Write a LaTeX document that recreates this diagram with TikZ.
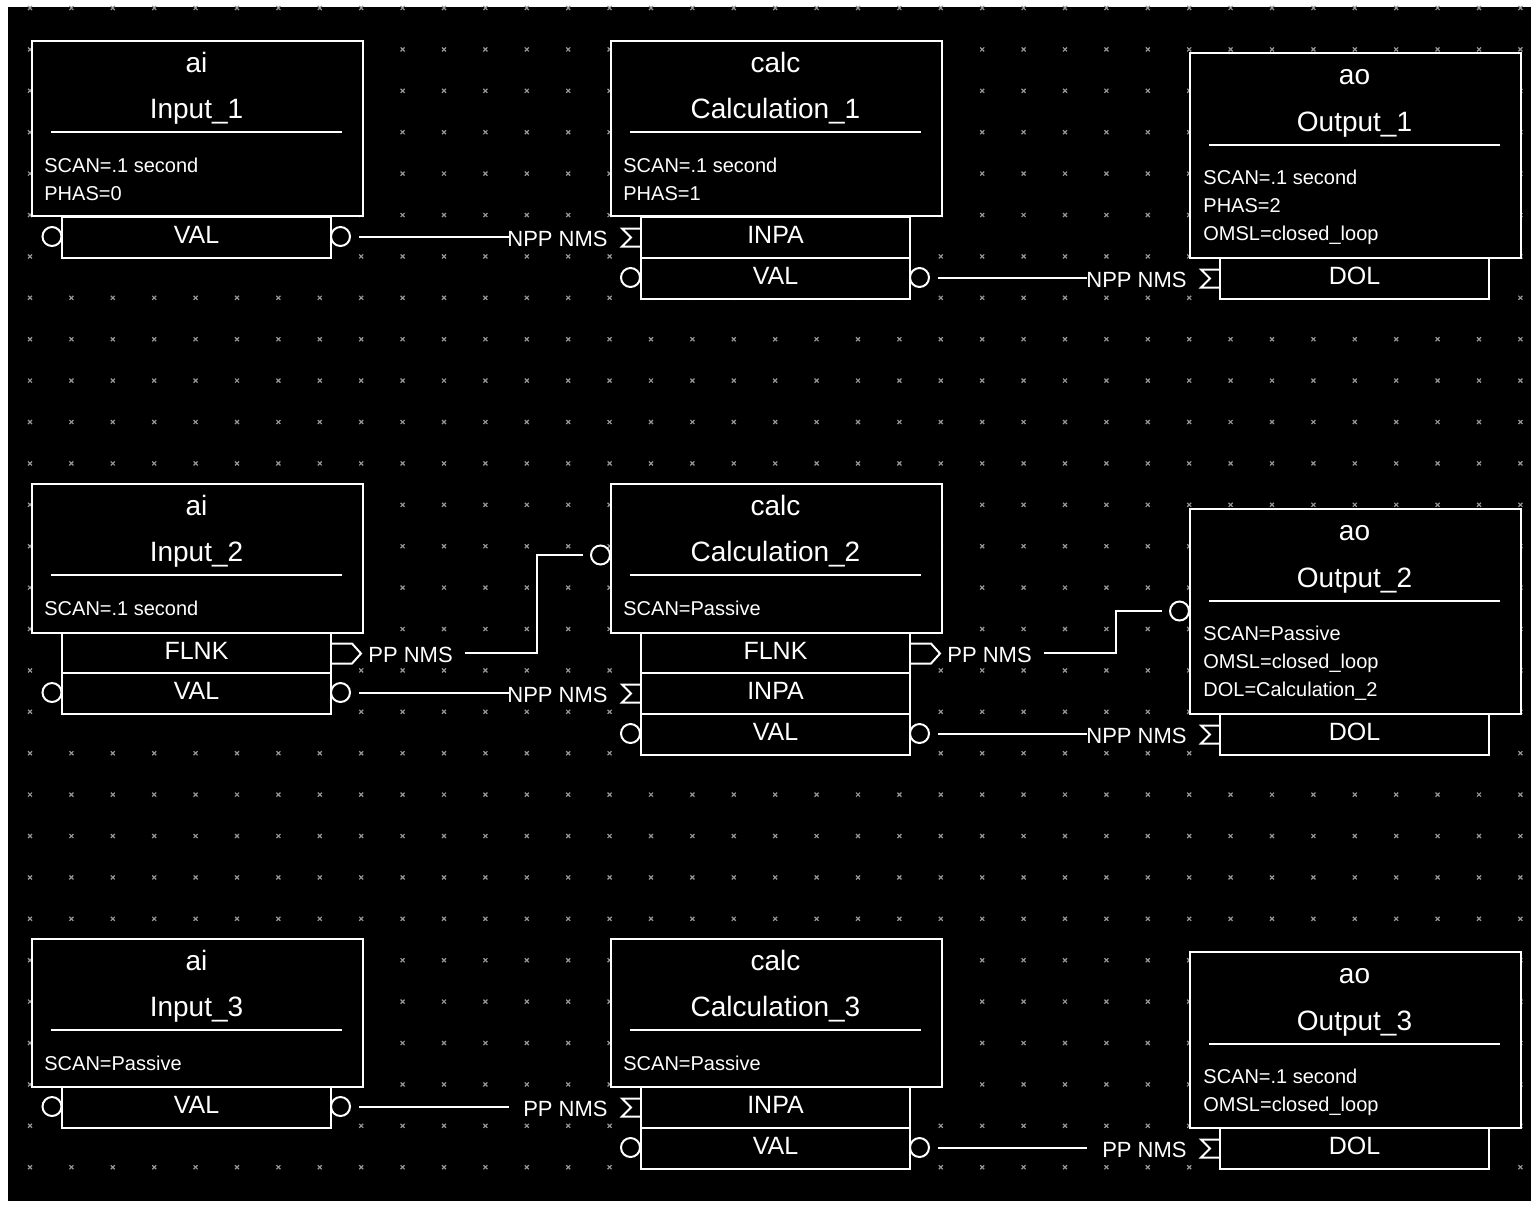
\documentclass[tikz,border=0pt]{standalone}
\usepackage{fontspec}
\setmainfont{Liberation Sans}
\definecolor{gridc}{RGB}{150,150,150}
\begin{document}
\begin{tikzpicture}[x=0.5pt,y=-0.5pt,
  wire/.style={draw=white,line width=1pt},
  recbox/.style={draw=white,fill=black,line width=1pt,rectangle,minimum width=165.5pt,anchor=north west,inner sep=0pt},
  fieldbox/.style={draw=white,fill=black,line width=1pt,rectangle,minimum width=134.5pt,minimum height=20.5pt,anchor=north west,inner sep=0pt},
  fieldtxt/.style={text=white,font=\fontsize{12.5}{14}\selectfont,inner sep=0pt,yshift=1.5pt},
  titletxt/.style={text=white,font=\fontsize{14}{16}\selectfont,inner sep=0pt,anchor=base},
  bodytxt/.style={text=white,font=\fontsize{10}{12}\selectfont,inner sep=0pt,anchor=base west},
  linktxt/.style={text=white,font=\fontsize{11}{13}\selectfont,inner sep=0pt},
  pinc/.style={circle,draw=white,line width=1pt,fill=black,minimum size=9.5pt,inner sep=0pt},
  gridx/.style={draw=gridc,line width=0.6pt},
  sigma/.pic={\draw[wire] (0,-9) -- (-18,-9) -- (-9,0) -- (-18,9) -- (0,9);},
  flag/.pic={\draw[wire] (0,-10) -- (20,-10) -- (29,0) -- (20,10) -- (0,10);}
]
\useasboundingbox (0,0) rectangle (1531,1207);
\fill[white] (0,0) rectangle (1531,1207);
\fill[black] (8,7) rectangle (1531,1201);
% grid
\foreach \i in {0,...,36}{\foreach \j in {0,...,28}{
  \draw[gridx] (30+41.4*\i-2,8+41.4*\j-2) -- ++(4,4) (30+41.4*\i-2,8+41.4*\j+2) -- ++(4,-4);
}}
% ---------- pin circles ----------
\node[pinc] (in1vi) at (52,236.5) {};
\node[pinc] (in1vo) at (340.5,236.5) {};
\node[pinc] (in2vi) at (52,692.5) {};
\node[pinc] (in2vo) at (340.5,692.5) {};
\node[pinc] (in3vi) at (52,1106.5) {};
\node[pinc] (in3vo) at (340.5,1106.5) {};
\node[pinc] (ca1vi) at (630.5,277.5) {};
\node[pinc] (ca1vo) at (919.5,277.5) {};
\node[pinc] (ca2vi) at (630.5,733.5) {};
\node[pinc] (ca2vo) at (919.5,733.5) {};
\node[pinc] (ca3vi) at (630.5,1147.5) {};
\node[pinc] (ca3vo) at (919.5,1147.5) {};
\node[pinc] (ca2sd) at (600.5,555) {};
\node[pinc] (ou2sd) at (1179.5,611) {};
% ---------- record boxes ----------
\node[recbox,minimum height=87.5pt] (in1) at (31,40) {};
\node[recbox,minimum height=74.5pt] (in2) at (31,483) {};
\node[recbox,minimum height=74pt] (in3) at (31,938) {};
\node[recbox,minimum height=87.5pt] (ca1) at (610,40) {};
\node[recbox,minimum height=74.5pt] (ca2) at (610,483) {};
\node[recbox,minimum height=74pt] (ca3) at (610,938) {};
\node[recbox,minimum height=102.5pt] (ou1) at (1189,52) {};
\node[recbox,minimum height=102.5pt] (ou2) at (1189,508) {};
\node[recbox,minimum height=88pt] (ou3) at (1189,951) {};
% ---------- fields ----------
\node[fieldbox] (in1val) at (61,216) {};
\node[fieldbox] (in2flnk) at (61,632) {};
\node[fieldbox] (in2val) at (61,672) {};
\node[fieldbox] (in3val) at (61,1086) {};
\node[fieldbox] (ca1inpa) at (640,216) {};
\node[fieldbox] (ca1val) at (640,257) {};
\node[fieldbox] (ca2flnk) at (640,632) {};
\node[fieldbox] (ca2inpa) at (640,672) {};
\node[fieldbox] (ca2val) at (640,713) {};
\node[fieldbox] (ca3inpa) at (640,1086) {};
\node[fieldbox] (ca3val) at (640,1127) {};
\node[fieldbox] (ou1dol) at (1219,257) {};
\node[fieldbox] (ou2dol) at (1219,713) {};
\node[fieldbox] (ou3dol) at (1219,1127) {};
\node[fieldtxt] (in1valt) at (in1val) {VAL};
\node[fieldtxt] (in2flnkt) at (in2flnk) {FLNK};
\node[fieldtxt] (in2valt) at (in2val) {VAL};
\node[fieldtxt] (in3valt) at (in3val) {VAL};
\node[fieldtxt] (ca1inpat) at (ca1inpa) {INPA};
\node[fieldtxt] (ca1valt) at (ca1val) {VAL};
\node[fieldtxt] (ca2flnkt) at (ca2flnk) {FLNK};
\node[fieldtxt] (ca2inpat) at (ca2inpa) {INPA};
\node[fieldtxt] (ca2valt) at (ca2val) {VAL};
\node[fieldtxt] (ca3inpat) at (ca3inpa) {INPA};
\node[fieldtxt] (ca3valt) at (ca3val) {VAL};
\node[fieldtxt] (ou1dolt) at (ou1dol) {DOL};
\node[fieldtxt] (ou2dolt) at (ou2dol) {DOL};
\node[fieldtxt] (ou3dolt) at (ou3dol) {DOL};
% ---------- box titles and bodies ----------
% Input_1
\node[titletxt] (in1a) at (196.5,72) {ai};
\node[titletxt] (in1b) at (196.5,118) {Input\_1};
\draw[wire] (51,132) -- (342,132);
\node[bodytxt] (in1c) at (44,172) {SCAN=.1 second};
\node[bodytxt] (in1d) at (44,200) {PHAS=0};
% Calculation_1
\node[titletxt] (ca1a) at (775.5,72) {calc};
\node[titletxt] (ca1b) at (775.5,118) {Calculation\_1};
\draw[wire] (630,132) -- (921,132);
\node[bodytxt] (ca1c) at (623,172) {SCAN=.1 second};
\node[bodytxt] (ca1d) at (623,200) {PHAS=1};
% Output_1
\node[titletxt] (ou1a) at (1354.5,84) {ao};
\node[titletxt] (ou1b) at (1354.5,131) {Output\_1};
\draw[wire] (1209,145) -- (1500,145);
\node[bodytxt] (ou1c) at (1203,184) {SCAN=.1 second};
\node[bodytxt] (ou1d) at (1203,212) {PHAS=2};
\node[bodytxt] (ou1e) at (1203,240) {OMSL=closed\_loop};
% Input_2
\node[titletxt] (in2a) at (196.5,515) {ai};
\node[titletxt] (in2b) at (196.5,561) {Input\_2};
\draw[wire] (51,575) -- (342,575);
\node[bodytxt] (in2c) at (44,615) {SCAN=.1 second};
% Calculation_2
\node[titletxt] (ca2a) at (775.5,515) {calc};
\node[titletxt] (ca2b) at (775.5,561) {Calculation\_2};
\draw[wire] (630,575) -- (921,575);
\node[bodytxt] (ca2c) at (623,615) {SCAN=Passive};
% Output_2
\node[titletxt] (ou2a) at (1354.5,540) {ao};
\node[titletxt] (ou2b) at (1354.5,587) {Output\_2};
\draw[wire] (1209,601) -- (1500,601);
\node[bodytxt] (ou2c) at (1203,640) {SCAN=Passive};
\node[bodytxt] (ou2d) at (1203,668) {OMSL=closed\_loop};
\node[bodytxt] (ou2e) at (1203,696) {DOL=Calculation\_2};
% Input_3
\node[titletxt] (in3a) at (196.5,970) {ai};
\node[titletxt] (in3b) at (196.5,1016) {Input\_3};
\draw[wire] (51,1030) -- (342,1030);
\node[bodytxt] (in3c) at (44,1070) {SCAN=Passive};
% Calculation_3
\node[titletxt] (ca3a) at (775.5,970) {calc};
\node[titletxt] (ca3b) at (775.5,1016) {Calculation\_3};
\draw[wire] (630,1030) -- (921,1030);
\node[bodytxt] (ca3c) at (623,1070) {SCAN=Passive};
% Output_3
\node[titletxt] (ou3a) at (1354.5,983) {ao};
\node[titletxt] (ou3b) at (1354.5,1030) {Output\_3};
\draw[wire] (1209,1044) -- (1500,1044);
\node[bodytxt] (ou3c) at (1203,1083) {SCAN=.1 second};
\node[bodytxt] (ou3d) at (1203,1111) {OMSL=closed\_loop};
% ---------- link symbols ----------
\pic at (ca1inpa.west) {sigma};
\pic at (ou1dol.west) {sigma};
\pic at (ca2inpa.west) {sigma};
\pic at (ou2dol.west) {sigma};
\pic at (ca3inpa.west) {sigma};
\pic at (ou3dol.west) {sigma};
\pic at (in2flnk.east) {flag};
\pic at (ca2flnk.east) {flag};
% ---------- link labels ----------
\node[linktxt,anchor=base east] (l1) at (608,246) {NPP NMS};
\node[linktxt,anchor=base east] (l2) at (1187,287) {NPP NMS};
\node[linktxt,anchor=base west] (l3) at (368,662) {PP NMS};
\node[linktxt,anchor=base east] (l4) at (608,702) {NPP NMS};
\node[linktxt,anchor=base west] (l5) at (947,662) {PP NMS};
\node[linktxt,anchor=base east] (l6) at (1187,743) {NPP NMS};
\node[linktxt,anchor=base east] (l7) at (608,1116) {PP NMS};
\node[linktxt,anchor=base east] (l8) at (1187,1157) {PP NMS};
% ---------- wire ends ----------
\coordinate (w1) at (509,236.5);
\coordinate (w2) at (1087,277.5);
\coordinate (w3) at (465,652.5);
\coordinate (w4) at (509,692.5);
\coordinate (w5) at (1044,652.5);
\coordinate (w6) at (1087,733.5);
\coordinate (w7) at (509,1106.5);
\coordinate (w8) at (1087,1147.5);
% ---------- wires ----------
\draw[wire] ([xshift=4pt]in1vo.east) -- (w1);
\draw[wire] ([xshift=4pt]ca1vo.east) -- (w2);
\draw[wire] (w3) -- ++(72,0) |- ([xshift=-3.5pt]ca2sd.west);
\draw[wire] ([xshift=4pt]in2vo.east) -- (w4);
\draw[wire] (w5) -- ++(72,0) |- ([xshift=-3.5pt]ou2sd.west);
\draw[wire] ([xshift=4pt]ca2vo.east) -- (w6);
\draw[wire] ([xshift=4pt]in3vo.east) -- (w7);
\draw[wire] ([xshift=4pt]ca3vo.east) -- (w8);
\end{tikzpicture}
\end{document}
